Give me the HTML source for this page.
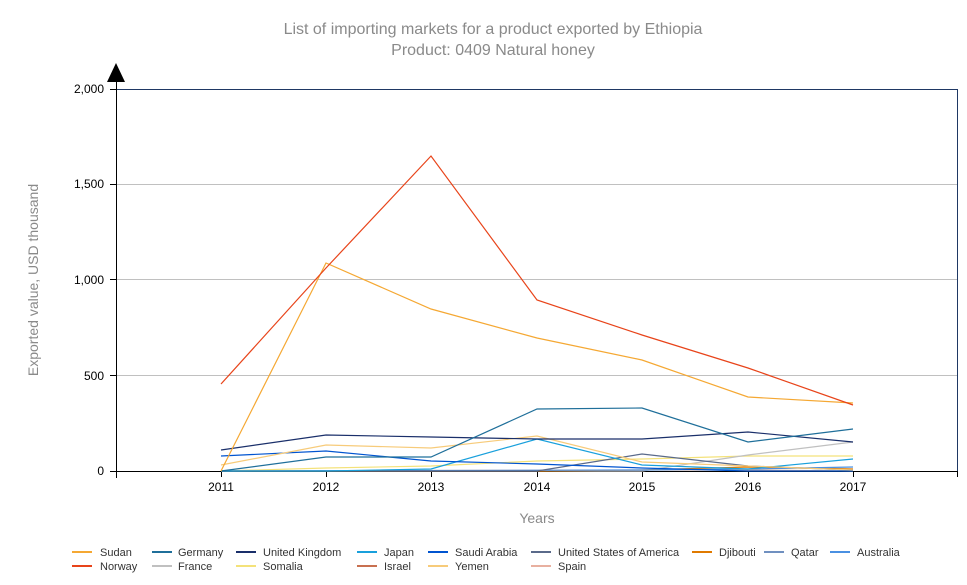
<!DOCTYPE html>
<html><head><meta charset="utf-8"><style>
body{margin:0;background:#fff;width:967px;height:585px;overflow:hidden}
svg{display:block;font-family:"Liberation Sans",sans-serif}
</style></head><body>
<svg width="967" height="585" viewBox="0 0 967 585">
<text x="493" y="34" text-anchor="middle" font-size="16" fill="#8a8a8a">List of importing markets for a product exported by Ethiopia</text>
<text x="493" y="55" text-anchor="middle" font-size="16" fill="#8a8a8a">Product: 0409 Natural honey</text>
<g stroke="#c0c0c0" stroke-width="1">
<line x1="116" y1="184.5" x2="958" y2="184.5"/>
<line x1="116" y1="279.5" x2="958" y2="279.5"/>
<line x1="116" y1="375.5" x2="958" y2="375.5"/>
</g>
<rect x="116.5" y="89.5" width="841" height="382" fill="none" stroke="#1f3864" stroke-width="1"/>
<line x1="116.5" y1="80" x2="116.5" y2="478" stroke="#000"/>
<polygon points="116,63 107,82 125,82" fill="#000"/>
<line x1="110" y1="471.5" x2="958" y2="471.5" stroke="#000"/>
<g stroke="#000">
<line x1="110" y1="89.5" x2="116" y2="89.5"/><line x1="110" y1="184.5" x2="116" y2="184.5"/>
<line x1="110" y1="279.5" x2="116" y2="279.5"/><line x1="110" y1="375.5" x2="116" y2="375.5"/>
<line x1="221.5" y1="471" x2="221.5" y2="477"/><line x1="326.5" y1="471" x2="326.5" y2="477"/>
<line x1="431.5" y1="471" x2="431.5" y2="477"/><line x1="537.5" y1="471" x2="537.5" y2="477"/>
<line x1="642.5" y1="471" x2="642.5" y2="477"/><line x1="748.5" y1="471" x2="748.5" y2="477"/>
<line x1="853.5" y1="471" x2="853.5" y2="477"/><line x1="116.5" y1="471" x2="116.5" y2="477"/>
<line x1="957.5" y1="471" x2="957.5" y2="477"/>
</g>
<g font-size="12" fill="#000" text-anchor="end">
<text x="104" y="93">2,000</text><text x="104" y="188">1,500</text>
<text x="104" y="284">1,000</text><text x="104" y="380">500</text><text x="104" y="475">0</text>
</g>
<g font-size="12" fill="#000" text-anchor="middle">
<text x="221" y="491">2011</text><text x="326" y="491">2012</text><text x="431" y="491">2013</text>
<text x="537" y="491">2014</text><text x="642" y="491">2015</text><text x="748" y="491">2016</text><text x="853" y="491">2017</text>
</g>
<text x="537" y="523" text-anchor="middle" font-size="14" fill="#8a8a8a">Years</text>
<text transform="translate(38,280) rotate(-90)" text-anchor="middle" font-size="14" fill="#8a8a8a">Exported value, USD thousand</text>
<g fill="none" stroke-width="1.2">
<polyline stroke="#f4e27a" points="221,471 326,468 431,466 537,461 642,459 748,456 853,456"/>
<polyline stroke="#c0c0c0" points="221,471 326,471 431,471 537,471 642,471 748,455 853,442"/>
<polyline stroke="#e07a00" points="221,471 326,471 431,471 537,471 642,470 748,467 853,469"/>
<polyline stroke="#e8b090" points="221,471 642,470 748,470 853,471"/>
<polyline stroke="#4a90e2" points="221,471 642,470 748,469 853,467"/>
<polyline stroke="#5a6a8a" points="221,471 326,471 431,471 537,471 642,454 748,466 853,470"/>
<polyline stroke="#19a0dc" points="221,471 326,471 431,469 537,439 642,465 748,469 853,459"/>
<polyline stroke="#0054d0" points="221,456 326,451 431,461 537,464 642,468 748,471 853,471"/>
<polyline stroke="#f7cb7a" points="221,465 326,445 431,448 537,436 642,462 748,466 853,470"/>
<polyline stroke="#1a2f6a" points="221,450 326,435 431,437 537,439 642,439 748,432 853,442"/>
<polyline stroke="#1f6f9a" points="221,471 326,457 431,457 537,409 642,408 748,442 853,429"/>
<polyline stroke="#f5a833" points="221,471 326,263 431,309 537,338 642,360 748,397 853,403"/>
<polyline stroke="#e8441a" points="221,384 326,268 431,156 537,300 642,335 748,368 853,405"/>
</g>
<g font-size="11" fill="#333">
<line x1="72" y1="552" x2="92" y2="552" stroke="#f5a833" stroke-width="2"/><text x="100" y="556">Sudan</text>
<line x1="72" y1="566" x2="92" y2="566" stroke="#e8441a" stroke-width="2"/><text x="100" y="570">Norway</text>
<line x1="152" y1="552" x2="172" y2="552" stroke="#1f6f9a" stroke-width="2"/><text x="178" y="556">Germany</text>
<line x1="152" y1="566" x2="172" y2="566" stroke="#c0c0c0" stroke-width="2"/><text x="178" y="570">France</text>
<line x1="236" y1="552" x2="256" y2="552" stroke="#1a2f6a" stroke-width="2"/><text x="263" y="556">United Kingdom</text>
<line x1="236" y1="566" x2="256" y2="566" stroke="#f4e27a" stroke-width="2"/><text x="263" y="570">Somalia</text>
<line x1="357" y1="552" x2="377" y2="552" stroke="#19a0dc" stroke-width="2"/><text x="384" y="556">Japan</text>
<line x1="357" y1="566" x2="377" y2="566" stroke="#c87050" stroke-width="2"/><text x="384" y="570">Israel</text>
<line x1="428" y1="552" x2="448" y2="552" stroke="#0054d0" stroke-width="2"/><text x="455" y="556">Saudi Arabia</text>
<line x1="428" y1="566" x2="448" y2="566" stroke="#f7cb7a" stroke-width="2"/><text x="455" y="570">Yemen</text>
<line x1="531" y1="552" x2="551" y2="552" stroke="#5a6a8a" stroke-width="2"/><text x="558" y="556">United States of America</text>
<line x1="531" y1="566" x2="551" y2="566" stroke="#e8b0a0" stroke-width="2"/><text x="558" y="570">Spain</text>
<line x1="692" y1="552" x2="712" y2="552" stroke="#e07a00" stroke-width="2"/><text x="719" y="556">Djibouti</text>
<line x1="764" y1="552" x2="784" y2="552" stroke="#7090c0" stroke-width="2"/><text x="791" y="556">Qatar</text>
<line x1="830" y1="552" x2="850" y2="552" stroke="#4a90e2" stroke-width="2"/><text x="857" y="556">Australia</text>
</g>
</svg>
</body></html>
